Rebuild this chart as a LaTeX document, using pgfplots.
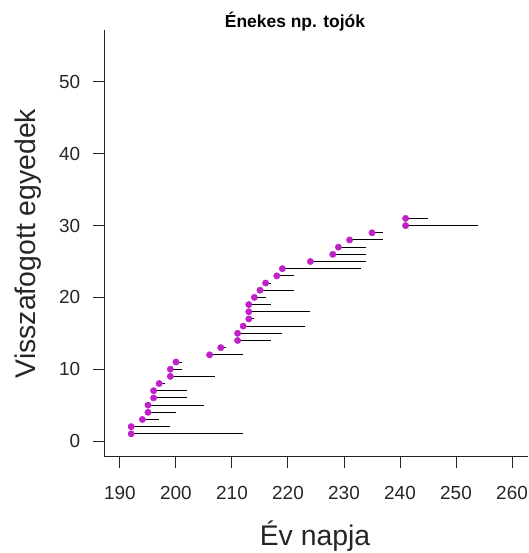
\documentclass[border=0pt]{standalone}
\usepackage{pgfplots}
\usepackage{pgfplotstable}
\pgfplotsset{compat=1.18}
\usepackage{fontspec}
\setmainfont{Liberation Sans}
\definecolor{mag}{RGB}{192,32,200}
\pgfplotstableread{
s e n
192 212 1
192 199 2
194 197 3
195 200 4
195 205 5
196 202 6
196 202 7
197 198 8
199 207 9
199 201 10
200 201 11
206 212 12
208 209 13
211 217 14
211 219 15
212 223 16
213 214 17
213 224 18
213 217 19
214 216 20
215 221 21
216 217 22
218 221 23
219 233 24
224 234 25
228 234 26
229 234 27
231 237 28
235 237 29
241 254 30
241 245 31
}\data
\begin{document}
\begin{tikzpicture}
\useasboundingbox (-104.3bp,-96.2bp) rectangle (424.7bp,456.8bp);
\begin{axis}[
  at={(0,0)}, anchor=south west,
  scale only axis, width=423.4bp, height=426.5bp,
  xmin=187.2, xmax=262.8, ymin=-2.2, ymax=57.2,
  axis x line*=bottom, axis y line*=left,
  axis line style={line width=1bp, black!85, -},
  tick align=outside, major tick length=11bp,
  tick style={line width=1bp, black!85},
  xtick={190,200,...,260}, ytick={0,10,...,50},
  /pgf/number format/assume math mode=true,
  ticklabel style={font=\fontsize{19}{22}\selectfont, text=black!85},
  xticklabel style={anchor=north, inner sep=0pt, yshift=-18bp},
  yticklabel style={anchor=east, inner sep=0pt, xshift=-13bp},
  clip=false,
]
\addplot[only marks, mark=none, error bars/.cd, x dir=plus, x explicit,
  error mark=none, error bar style={draw=black, line width=1bp, solid}]
  table[x=s, y=n, x error expr=\thisrow{e}-\thisrow{s}] {\data};
\addplot[only marks, mark=*, mark size=3.2bp, color=mag, mark options={draw=mag, fill=mag}]
  table[x=s, y=n] {\data};
\end{axis}
\node[font=\bfseries\fontsize{17.5}{20}\selectfont, anchor=base] at (190.7bp,428.8bp) {Énekes np. tojók};
\node[font=\fontsize{28.5}{32}\selectfont, anchor=base, text=black!85] at (210.7bp,-88.2bp) {Év napja};
\node[font=\fontsize{28.5}{32}\selectfont, anchor=base, rotate=90, text=black!85] at (-68.3bp,213.3bp) {Visszafogott egyedek};
\end{tikzpicture}
\end{document}
